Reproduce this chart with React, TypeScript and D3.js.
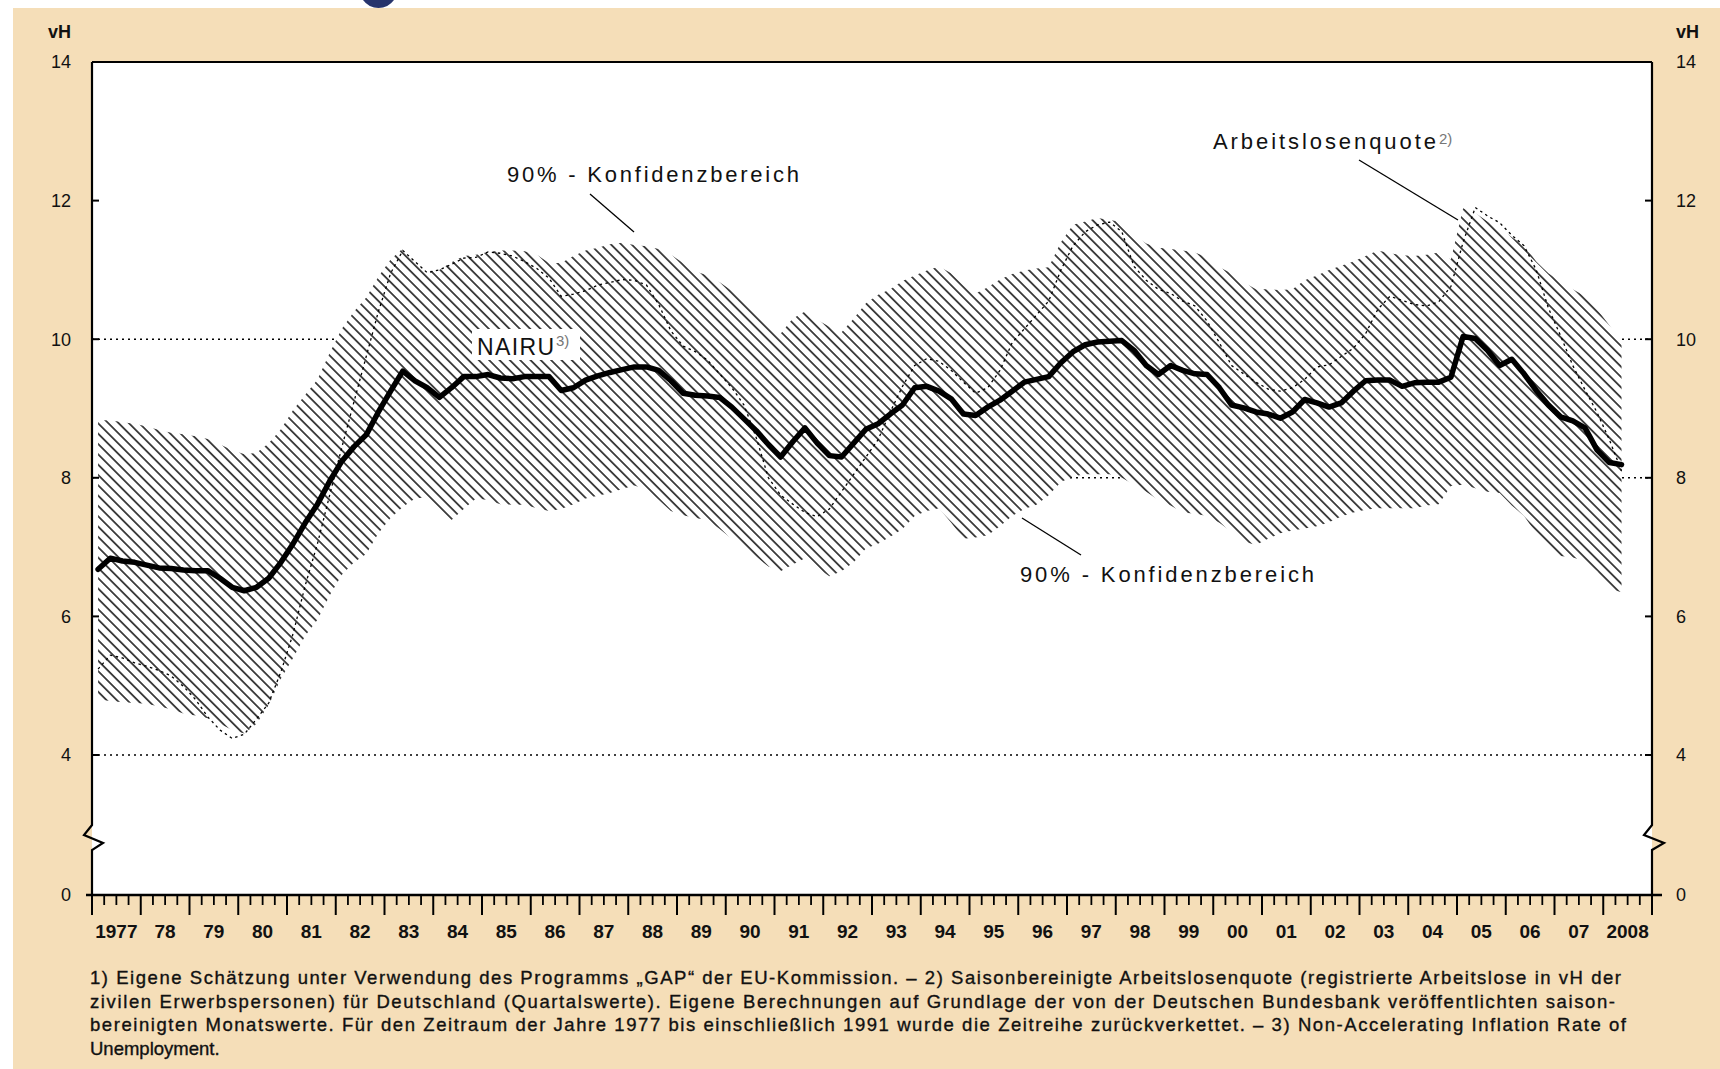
import React from "react";
import * as d3 from "d3";

// Quarterly values, 1977 Q1 .. 2008 Q2 (vH)
const startYear = 1977;

const nairu = [
  6.68, 6.84, 6.8, 6.78, 6.74, 6.7, 6.69, 6.67, 6.66, 6.66,
  6.55, 6.42, 6.37, 6.42, 6.55, 6.78, 7.05, 7.35, 7.62, 7.95,
  8.24, 8.45, 8.62, 8.95, 9.25, 9.54, 9.4, 9.3, 9.16, 9.3,
  9.46, 9.46, 9.49, 9.44, 9.43, 9.46, 9.46, 9.46, 9.26, 9.3,
  9.41, 9.47, 9.52, 9.56, 9.6, 9.6, 9.55, 9.4, 9.22, 9.19,
  9.18, 9.16, 9.02, 8.85, 8.68, 8.48, 8.3, 8.52, 8.72, 8.5,
  8.32, 8.3, 8.5, 8.7, 8.78, 8.92, 9.05, 9.3, 9.32, 9.25,
  9.14, 8.92, 8.9, 9.02, 9.12, 9.25, 9.38, 9.42, 9.46, 9.66,
  9.82, 9.92, 9.96, 9.97, 9.98, 9.84, 9.62, 9.49, 9.62, 9.55,
  9.5, 9.49, 9.3, 9.05, 9.01, 8.95, 8.92, 8.86, 8.95, 9.13,
  9.08, 9.02, 9.08, 9.25, 9.4, 9.41, 9.41, 9.32, 9.37, 9.38,
  9.38, 9.45, 10.04, 10.01, 9.84, 9.62, 9.71, 9.5, 9.26, 9.05,
  8.88, 8.82, 8.72, 8.4, 8.22, 8.19,
];

const unemployment = [
  5.24, 5.44, 5.4, 5.33, 5.28, 5.22, 5.14, 4.99, 4.8, 4.55,
  4.36, 4.24, 4.3, 4.52, 4.75, 5.2, 5.75, 6.45, 7.05, 7.75,
  8.44, 9.1, 9.75, 10.4, 10.95, 11.28, 11.12, 10.96, 11.0, 11.08,
  11.17, 11.18, 11.26, 11.24, 11.2, 11.12, 11.02, 10.88, 10.62, 10.65,
  10.7, 10.78, 10.82, 10.86, 10.85, 10.78, 10.5, 10.12, 9.9, 9.82,
  9.7, 9.5, 9.3, 9.05, 8.58, 8.0, 7.75, 7.62, 7.5, 7.44,
  7.55, 7.8, 8.05, 8.3, 8.55, 8.95, 9.32, 9.62, 9.72, 9.68,
  9.55, 9.38, 9.22, 9.3, 9.55, 9.95, 10.15, 10.35, 10.55, 11.0,
  11.35, 11.55, 11.65, 11.69, 11.55, 11.05, 10.85, 10.72, 10.66, 10.55,
  10.48, 10.26, 9.95, 9.62, 9.5, 9.38, 9.28, 9.25, 9.3, 9.42,
  9.6, 9.63, 9.75, 9.87, 10.08, 10.43, 10.62, 10.56, 10.5, 10.48,
  10.54, 10.76, 11.4, 11.9, 11.78, 11.68, 11.5, 11.35, 11.0, 10.45,
  10.05, 9.62, 9.27, 8.94, 8.55, 8.1,
];

const bandUpper = [
  8.83, 8.83, 8.8, 8.78, 8.74, 8.69, 8.65, 8.63, 8.6, 8.56,
  8.48, 8.4, 8.34, 8.36, 8.5, 8.7, 8.98, 9.2, 9.42, 9.8,
  10.15, 10.4, 10.6, 10.9, 11.15, 11.31, 11.12, 10.98, 11.0, 11.11,
  11.2, 11.22, 11.26, 11.28, 11.28, 11.27, 11.22, 11.1, 11.1, 11.2,
  11.28, 11.32, 11.37, 11.39, 11.36, 11.34, 11.3, 11.22, 11.1, 10.98,
  10.92, 10.82, 10.7, 10.55, 10.4, 10.24, 10.08, 10.3, 10.4, 10.28,
  10.18, 10.1, 10.3, 10.52, 10.64, 10.72, 10.84, 10.92, 10.99, 11.05,
  10.95, 10.78, 10.66, 10.75, 10.86, 10.94, 10.99, 11.02, 11.04, 11.4,
  11.65, 11.7, 11.75, 11.72, 11.69, 11.5, 11.38, 11.32, 11.3, 11.28,
  11.25, 11.18, 11.04, 10.95, 10.82, 10.72, 10.72, 10.71, 10.72, 10.85,
  10.92, 11.0, 11.06, 11.12, 11.2, 11.28, 11.24, 11.21, 11.2, 11.22,
  11.25, 11.15, 11.89, 11.82, 11.7, 11.6, 11.47, 11.36, 11.12, 10.95,
  10.83, 10.72, 10.62, 10.43, 10.2, 9.95,
];

const bandLower = [
  4.8, 4.78, 4.76, 4.75, 4.74, 4.7, 4.66, 4.6, 4.57, 4.53,
  4.45, 4.36, 4.31, 4.45, 4.72, 5.1, 5.4, 5.72, 5.95, 6.3,
  6.6, 6.78, 6.9, 7.2, 7.42, 7.58, 7.7, 7.72, 7.47, 7.39,
  7.55, 7.7, 7.68, 7.62, 7.61, 7.61, 7.56, 7.52, 7.55, 7.62,
  7.7, 7.74, 7.78, 7.84, 7.89, 7.83, 7.68, 7.52, 7.46, 7.42,
  7.39, 7.26, 7.12, 7.01, 6.86, 6.72, 6.65, 6.75, 6.84, 6.7,
  6.58, 6.65, 6.78, 6.98, 7.05, 7.15, 7.26, 7.45, 7.52, 7.56,
  7.35, 7.12, 7.14, 7.17, 7.3, 7.45, 7.55, 7.61, 7.75, 7.94,
  8.02, 8.05, 8.05, 8.05, 8.0, 7.9, 7.8, 7.68, 7.6, 7.5,
  7.48, 7.45, 7.35, 7.22, 7.08, 7.03, 7.12, 7.2, 7.24, 7.27,
  7.3, 7.36, 7.44, 7.5, 7.54, 7.56, 7.56, 7.56, 7.56, 7.6,
  7.62, 7.88, 7.9, 7.85, 7.8, 7.78, 7.6, 7.45, 7.2, 7.0,
  6.87, 6.85, 6.8, 6.65, 6.4, 6.35,
];

const yearLabels = [
  "1977", "78", "79", "80", "81", "82", "83", "84", "85", "86", "87",
  "88", "89", "90", "91", "92", "93", "94", "95", "96", "97", "98",
  "99", "00", "01", "02", "03", "04", "05", "06", "07", "2008",
];

const yTickValues = [0, 4, 6, 8, 10, 12, 14];
const yTickLabels = ["0", "4", "6", "8", "10", "12", "14"];
const gridValues = [4, 8, 10];
const unitLabel = "vH";

const footnotes = [
  "1) Eigene Schätzung unter Verwendung des Programms „GAP“ der EU-Kommission. – 2) Saisonbereinigte Arbeitslosenquote (registrierte Arbeitslose in vH der",
  "zivilen Erwerbspersonen) für Deutschland (Quartalswerte). Eigene Berechnungen auf Grundlage der von der Deutschen Bundesbank veröffentlichten saison-",
  "bereinigten Monatswerte. Für den Zeitraum der Jahre 1977 bis einschließlich 1991 wurde die Zeitreihe zurückverkettet. – 3) Non-Accelerating Inflation Rate of",
  "Unemployment.",
];
const footnoteWidths = [1531, 1525, 1536, 0];

const FONT = "'Liberation Sans', Arial, sans-serif";

export default function App() {
  const left = 92;
  const right = 1652;
  const top = 62;
  const bottom = 895;

  const x = d3.scaleLinear().domain([startYear, startYear + 32]).range([left, right]);
  // broken axis: 0..4 compressed
  const y = d3.scaleLinear().domain([0, 4, 14]).range([bottom, 755, top]);

  const rows = nairu.map((v, i) => ({
    t: startYear + (i + 0.5) / 4,
    nairu: v,
    ur: unemployment[i],
    lo: bandLower[i],
    hi: bandUpper[i],
  }));

  const bandArea = d3
    .area<any>()
    .x((d) => x(d.t))
    .y0((d) => y(d.lo))
    .y1((d) => y(d.hi));
  const nairuLine = d3
    .line<any>()
    .x((d) => x(d.t))
    .y((d) => y(d.nairu));
  const urLine = d3
    .line<any>()
    .x((d) => x(d.t))
    .y((d) => y(d.ur));

  const majorTicks = d3.range(startYear, startYear + 33);
  const minorTicks: number[] = [];
  for (let yr = startYear; yr < startYear + 32; yr++) {
    for (let q = 1; q < 4; q++) minorTicks.push(yr + q / 4);
  }

  return (
    <svg
      width={1720}
      height={1069}
      style={{ position: "fixed", left: 0, top: 0, background: "#ffffff" }}
      fontFamily={FONT}
    >
      <defs>
        <pattern
          id="hatch"
          patternUnits="userSpaceOnUse"
          width={7.3}
          height={7.3}
          patternTransform="rotate(45)"
        >
          <rect width={7.3} height={7.3} fill="#ffffff" />
          <line x1={-1} y1={3.65} x2={8.3} y2={3.65} stroke="#000" strokeWidth={1.4} />
        </pattern>
      </defs>

      {/* page background */}
      <rect x={0} y={0} width={1720} height={1069} fill="#ffffff" />
      <rect x={13} y={8} width={1707} height={1061} fill="#F5DEB8" />
      <path d="M363,0 A19,19 0 0 0 394,0 Z" fill="#27346c" />

      {/* plot area */}
      <rect x={left} y={top} width={right - left} height={bottom - top} fill="#ffffff" />

      {/* gridlines */}
      {gridValues.map((g) => (
        <line
          key={"g" + g}
          x1={left}
          x2={right}
          y1={y(g)}
          y2={y(g)}
          stroke="#000"
          strokeWidth={1.4}
          strokeDasharray="2,4"
        />
      ))}

      {/* confidence band */}
      <path d={bandArea(rows) || ""} fill="url(#hatch)" />

      {/* unemployment rate */}
      <path
        d={urLine(rows) || ""}
        fill="none"
        stroke="#000"
        strokeWidth={1.3}
        strokeDasharray="2.5,3.5"
      />

      {/* NAIRU label box (clears hatch) */}
      <rect x={472} y={329} width={108} height={31} fill="#ffffff" />

      {/* NAIRU */}
      <path
        d={nairuLine(rows) || ""}
        fill="none"
        stroke="#000"
        strokeWidth={5.5}
        strokeLinejoin="round"
        strokeLinecap="round"
      />

      {/* frame */}
      <line x1={left} x2={right} y1={top} y2={top} stroke="#000" strokeWidth={2.2} />
      <path
        d={`M${left},${top} V825 L84,835 L103,843 L${left},850 V${bottom}`}
        fill="none"
        stroke="#000"
        strokeWidth={2.2}
      />
      <path
        d={`M${right},${top} V825 L1644,835 L1664,843 L${right},850 V${bottom}`}
        fill="none"
        stroke="#000"
        strokeWidth={2.2}
      />
      <line x1={86} x2={1662} y1={bottom} y2={bottom} stroke="#000" strokeWidth={2.5} />

      {/* y ticks */}
      {yTickValues.map((v) => (
        <g key={"yt" + v}>
          <line x1={left} x2={left + 7} y1={y(v)} y2={y(v)} stroke="#000" strokeWidth={2} />
          <line x1={right - 7} x2={right} y1={y(v)} y2={y(v)} stroke="#000" strokeWidth={2} />
        </g>
      ))}
      {yTickValues.map((v, i) => (
        <g key={"yl" + v} fontSize={18} fill="#111">
          <text x={71} y={y(v)} dy="0.36em" textAnchor="end">
            {yTickLabels[i]}
          </text>
          <text x={1676} y={y(v)} dy="0.36em" textAnchor="start">
            {yTickLabels[i]}
          </text>
        </g>
      ))}
      <text x={71} y={32} dy="0.36em" textAnchor="end" fontSize={18} fontWeight="bold" fill="#111">
        {unitLabel}
      </text>
      <text x={1676} y={32} dy="0.36em" textAnchor="start" fontSize={18} fontWeight="bold" fill="#111">
        {unitLabel}
      </text>

      {/* x ticks */}
      {majorTicks.map((yr) => (
        <line key={"M" + yr} x1={x(yr)} x2={x(yr)} y1={bottom} y2={bottom + 20} stroke="#000" strokeWidth={2} />
      ))}
      {minorTicks.map((t) => (
        <line key={"m" + t} x1={x(t)} x2={x(t)} y1={bottom} y2={bottom + 10} stroke="#000" strokeWidth={1.8} />
      ))}
      {yearLabels.map((lab, i) => (
        <text
          key={"xl" + lab + i}
          x={x(startYear + i + 0.5)}
          y={938}
          textAnchor="middle"
          fontSize={19}
          fontWeight="bold"
          fill="#111"
        >
          {lab}
        </text>
      ))}

      {/* annotations */}
      <g fill="#111" fontSize={22}>
        <text x={507} y={182} textLength={292} lengthAdjust="spacing">
          90% - Konfidenzbereich
        </text>
        <line x1={590} y1={194} x2={634} y2={232} stroke="#000" strokeWidth={1.3} />

        <text x={477} y={355} textLength={77} lengthAdjust="spacing" fontSize={23}>
          NAIRU
        </text>
        <text x={556} y={346} fontSize={15} fill="#777">
          3)
        </text>

        <text x={1213} y={149} textLength={223} lengthAdjust="spacing">
          Arbeitslosenquote
        </text>
        <text x={1439} y={144} fontSize={15} fill="#777">
          2)
        </text>
        <line x1={1359} y1={160} x2={1458} y2={220} stroke="#000" strokeWidth={1.3} />

        <text x={1020} y={582} textLength={294} lengthAdjust="spacing">
          90% - Konfidenzbereich
        </text>
        <line x1={1022} y1={518} x2={1081} y2={555} stroke="#000" strokeWidth={1.3} />
      </g>

      {/* footnotes */}
      <g fontSize={18.5} fill="#111" stroke="#111" strokeWidth={0.35}>
        {footnotes.map((line, i) => (
          <text
            key={"fn" + i}
            x={90}
            y={984 + i * 23.7}
            textLength={footnoteWidths[i] > 0 ? footnoteWidths[i] : undefined}
            lengthAdjust="spacing"
          >
            {line}
          </text>
        ))}
      </g>
    </svg>
  );
}
